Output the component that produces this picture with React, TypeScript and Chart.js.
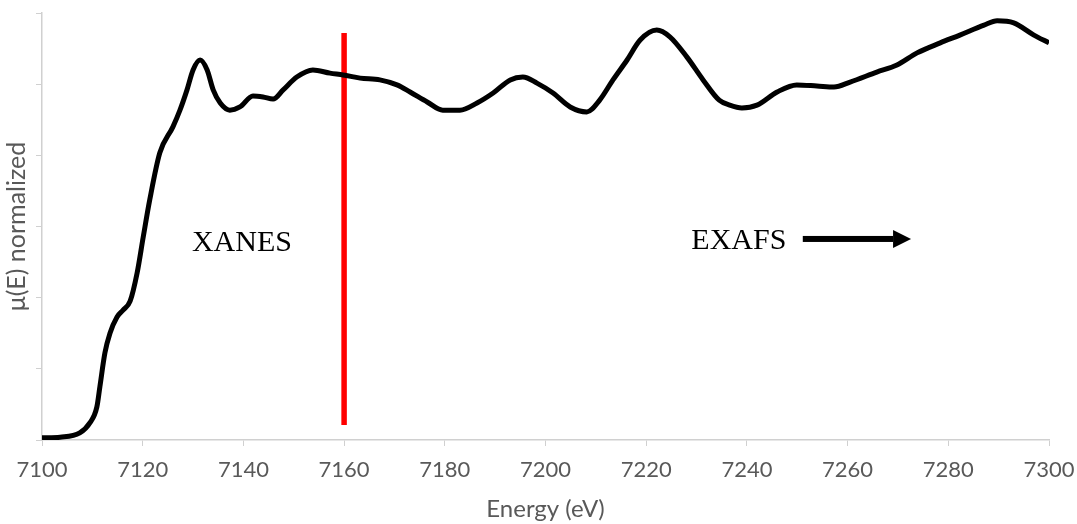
import React, { useEffect, useRef } from "react";
import { Chart, registerables } from "chart.js";

Chart.register(...registerables);

// Energy (eV) and normalized absorption
const energy: number[] = [
  7100, 7103.6, 7107.5, 7109.5, 7110.9, 7111.5, 7112.5, 7113.5, 7114.9, 7116.1,
  7117.5, 7118.9, 7120.1, 7121.4, 7123.4, 7126, 7127.4, 7128.8, 7130, 7131.4,
  7132.8, 7134, 7135.4, 7137.3, 7139.3, 7141.9, 7143.9, 7145.9, 7147.9, 7150.6,
  7153.8, 7157.2, 7159.8, 7163.2, 7167.1, 7170.5, 7173.1, 7176.5, 7179.6, 7183,
  7186.4, 7189.6, 7193, 7195.5, 7198.3, 7201.5, 7204.9, 7208.2, 7210.8, 7213.4,
  7216.2, 7218.8, 7222.1, 7224.7, 7228.1, 7231.3, 7234.5, 7236.6, 7239, 7242,
  7246, 7249.9, 7253.9, 7257.3, 7260.5, 7265.8, 7269.8, 7273.8, 7278.4, 7282.3,
  7287.1, 7289.7, 7293, 7297, 7300,
];
const mu: number[] = [
  0.006, 0.008, 0.02, 0.048, 0.093, 0.15, 0.245, 0.3, 0.346, 0.365,
  0.39, 0.47, 0.57, 0.675, 0.807, 0.88, 0.927, 0.984, 1.04, 1.068,
  1.04, 0.984, 0.947, 0.927, 0.936, 0.967, 0.964, 0.958, 0.984, 1.02,
  1.04, 1.031, 1.026, 1.017, 1.012, 0.998, 0.978, 0.95, 0.927, 0.927,
  0.947, 0.975, 1.012, 1.02, 1.003, 0.975, 0.936, 0.922, 0.956, 1.012,
  1.068, 1.124, 1.152, 1.133, 1.076, 1.012, 0.955, 0.941, 0.933, 0.941,
  0.978, 0.998, 0.995, 0.992, 1.006, 1.034, 1.054, 1.088, 1.116, 1.138,
  1.166, 1.178, 1.172, 1.138, 1.116,
];

// Boundary marker between XANES and EXAFS
const boundaryEnergy = [7160, 7160];
const boundaryMu = [0.042, 1.144];

// Axis settings
const xMin = 7100;
const xMax = 7300;
const xStep = 20;
const yMin = 0;
const yMax = 1.2;
const yStep = 0.2;

const xTitle = "Energy (eV)";
const yTitle = "μ(E) normalized";

// Annotations (data units)
const xanesLabel = { text: "XANES", x: 7139.7, y: 0.554 };
const exafsLabel = { text: "EXAFS", x: 7238.4, y: 0.56 };
const arrowSpec = { x0: 7251.1, x1: 7272.6, y: 0.565 };

const annotationPlugin = {
  id: "xafsAnnotations",
  afterDatasetsDraw(chart: any) {
    const ctx = chart.ctx;
    const xs = chart.scales.x;
    const ys = chart.scales.y;
    ctx.save();
    ctx.fillStyle = "#000";
    ctx.font = "30px 'Liberation Serif'";
    ctx.textAlign = "center";
    ctx.textBaseline = "middle";
    for (const l of [xanesLabel, exafsLabel]) {
      ctx.fillText(l.text, xs.getPixelForValue(l.x), ys.getPixelForValue(l.y));
    }
    const ax0 = xs.getPixelForValue(arrowSpec.x0);
    const ax1 = xs.getPixelForValue(arrowSpec.x1);
    const ay = ys.getPixelForValue(arrowSpec.y);
    const head = 18;
    ctx.fillRect(ax0, ay - 3, ax1 - head - ax0, 6);
    ctx.beginPath();
    ctx.moveTo(ax1, ay);
    ctx.lineTo(ax1 - head, ay - 9);
    ctx.lineTo(ax1 - head, ay + 9);
    ctx.closePath();
    ctx.fill();
    ctx.restore();
  },
};

export default function App() {
  const ref = useRef<HTMLCanvasElement | null>(null);
  useEffect(() => {
    if (!ref.current) return;
    const axisColor = "#d0d0d0";
    const textColor = "#595959";
    const chart = new Chart(ref.current, {
      type: "line",
      data: {
        datasets: [
          {
            data: energy.map((e, i) => ({ x: e, y: mu[i] })),
            borderColor: "#000",
            borderWidth: 5,
            pointRadius: 0,
            cubicInterpolationMode: "monotone",
            fill: false,
          },
          {
            data: boundaryEnergy.map((e, i) => ({ x: e, y: boundaryMu[i] })),
            borderColor: "#ff0000",
            borderWidth: 5.5,
            borderCapStyle: "butt",
            pointRadius: 0,
            fill: false,
          },
        ],
      },
      options: {
        responsive: false,
        animation: false,
        layout: { padding: { top: 13, right: 28, left: 0, bottom: 0 } },
        plugins: { legend: { display: false }, tooltip: { enabled: false } },
        scales: {
          x: {
            type: "linear",
            min: xMin,
            max: xMax,
            ticks: {
              stepSize: xStep,
              color: textColor,
              font: { family: "Lato", size: 22 },
              padding: 11,
              maxRotation: 0,
              callback: (v: any) => String(v),
            },
            grid: {
              drawOnChartArea: false,
              drawTicks: true,
              tickLength: 6,
              color: axisColor,
            },
            border: { color: axisColor, width: 1.5 },
            title: {
              display: true,
              text: xTitle,
              color: textColor,
              font: { family: "Lato", size: 24 },
              padding: { top: 0, bottom: 0 },
            },
            afterFit: (s: any) => {
              s.height = 84;
              s.paddingRight = 0;
              s.paddingLeft = 0;
            },
          },
          y: {
            type: "linear",
            min: yMin,
            max: yMax,
            ticks: { stepSize: yStep, callback: () => "", padding: 0 },
            grid: {
              drawOnChartArea: false,
              drawTicks: true,
              tickLength: 6,
              color: axisColor,
            },
            border: { color: axisColor, width: 1.5 },
            title: {
              display: true,
              text: yTitle,
              color: textColor,
              font: { family: "Lato", size: 25 },
              padding: { top: 2, bottom: 0 },
            },
            afterFit: (s: any) => {
              s.width = 42;
              s.paddingTop = 0;
              s.paddingBottom = 0;
            },
          },
        },
      },
      plugins: [annotationPlugin],
    } as any);
    return () => chart.destroy();
  }, []);
  return (
    <div style={{ position: "fixed", left: 0, top: 0, width: 1077, height: 524, background: "#fff" }}>
      <canvas ref={ref} width={1077} height={524} style={{ display: "block" }} />
    </div>
  );
}
